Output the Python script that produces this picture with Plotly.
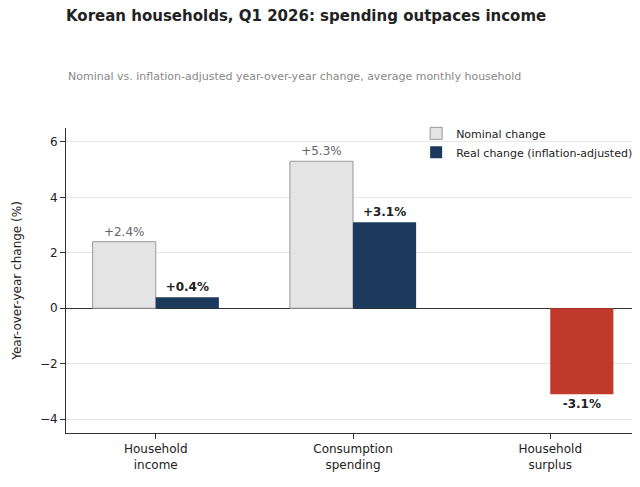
import plotly.graph_objects as go

categories = ["Household<br>income", "Consumption<br>spending", "Household<br>surplus"]
nominal = [2.4, 5.3, None]
real = [0.4, 3.1, -3.1]
nominal_labels = ["+2.4%", "+5.3%", ""]
real_labels = ["+0.4%", "+3.1%", "-3.1%"]
real_colors = ["#1b3a5c", "#1b3a5c", "#c0392b"]

fig = go.Figure()
fig.add_trace(go.Bar(
    x=[0, 1, 2], y=nominal, name="Nominal change",
    marker=dict(color="#e4e4e4", line=dict(color="#999999", width=1)),
    text=nominal_labels, textposition="outside",
    textfont=dict(color="#666666", size=12), cliponaxis=False,
))
fig.add_trace(go.Bar(
    x=[0, 1, 2], y=real, name="Real change (inflation-adjusted)",
    marker=dict(color=real_colors, line=dict(width=0)),
    text=[f"<b>{t}</b>" for t in real_labels], textposition="outside",
    textfont=dict(color="#222222", size=12), cliponaxis=False,
))

fig.update_layout(
    width=640, height=487,
    font=dict(family="DejaVu Sans", size=12, color="#222222"),
    paper_bgcolor="white", plot_bgcolor="white",
    barmode="group", bargap=0.36, bargroupgap=0,
    margin=dict(l=48, r=8, t=120, b=62),
    title=dict(text="<b>Korean households, Q1 2026: spending outpaces income</b>",
               x=0.0, xanchor="left", y=0.995, yanchor="top", xref="paper",
               font=dict(size=15, color="#222222")),
    legend=dict(x=0.61, y=1.03, xanchor="left", yanchor="top",
                bgcolor="rgba(255,255,255,0)", font=dict(size=11)),
    xaxis=dict(range=[-0.455, 2.455], tickvals=[0, 1, 2], ticktext=categories,
               showline=True, linecolor="#333333", ticks="outside",
               tickcolor="#333333", tickfont=dict(size=12)),
    yaxis=dict(range=[-4.5, 6.5], dtick=2, showgrid=True, gridcolor="#e8e8e8",
               zeroline=True, zerolinecolor="#333333", zerolinewidth=1,
               showline=True, linecolor="#333333", ticks="outside",
               tickcolor="#333333",
               title=dict(text="Year-over-year change (%)", font=dict(size=12))),
    annotations=[
        dict(text="Nominal vs. inflation-adjusted year-over-year change, average monthly household",
             xref="paper", yref="paper", x=0.0, y=1.17, xanchor="left", yanchor="middle",
             showarrow=False, font=dict(size=11, color="#888888")),
        dict(text="Source: Statistics Korea, Household Trend Survey, Q1 2026",
             xref="paper", yref="paper", x=-0.07, y=-0.2, xanchor="left", yanchor="middle",
             showarrow=False, font=dict(size=9, color="#888888")),
    ],
)

fig.write_html("out.html")
